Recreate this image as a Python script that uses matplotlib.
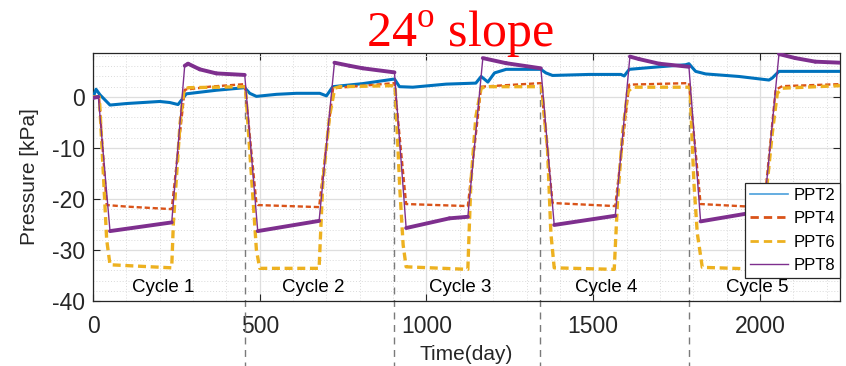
import numpy as np
import matplotlib
matplotlib.use("Agg")
import matplotlib.pyplot as plt
from matplotlib.collections import LineCollection
from matplotlib.lines import Line2D

plt.rcParams['font.family'] = ['Liberation Sans', 'DejaVu Sans']
plt.rcParams['mathtext.fontset'] = 'custom'
plt.rcParams['mathtext.rm'] = 'Liberation Serif'

# ---- pore-pressure records (time in days, pressure in kPa) ----
t_ppt2 = [0, 9, 21, 51, 101, 200, 230, 255, 280, 370, 455, 470, 490, 550, 610, 680,
          700, 719, 809, 904, 919, 959, 1059, 1148, 1164, 1184, 1204, 1239, 1343,
          1358, 1378, 1488, 1583, 1593, 1608, 1698, 1777, 1787, 1807, 1837, 1937,
          2027, 2037, 2057, 2240]
p_ppt2 = [-0.2, 1.5, 0.4, -1.6, -1.3, -0.9, -1.1, -1.5, 0.6, 1.3, 1.8, 0.7, 0.1, 0.5,
          0.7, 0.7, 0.2, 2.0, 2.6, 3.5, 2.0, 1.9, 2.5, 2.7, 4.0, 2.9, 4.7, 5.4, 5.4,
          4.7, 4.2, 4.4, 4.4, 4.1, 5.4, 5.9, 6.3, 6.5, 5.0, 4.5, 4.0, 3.3, 3.7, 5.0, 5.0]

t_ppt4 = [0, 18, 41, 101, 236, 275, 350, 455, 490, 495, 678, 720, 904, 939, 1124,
          1164, 1343, 1378, 1566, 1608, 1787, 1822, 1967, 2012, 2047, 2067, 2240]
p_ppt4 = [0.0, 0.0, -21.2, -21.5, -22.0, 1.4, 2.0, 2.5, -20.8, -21.2, -21.6, 1.7, 2.7,
          -21.0, -21.4, 2.0, 2.7, -20.8, -21.4, 2.4, 2.7, -21.0, -21.5, -21.6, 1.4,
          2.1, 2.5]

t_ppt6 = [0, 19, 31, 41, 51, 236, 241, 251, 261, 273, 286, 455,
          457, 480, 490, 500, 678, 689, 709, 725, 740, 904,
          906, 920, 930, 939, 1124, 1133, 1148, 1164, 1179, 1343,
          1345, 1363, 1373, 1383, 1563, 1573, 1588, 1603, 1618, 1787,
          1790, 1802, 1812, 1827, 2010, 2020, 2037, 2052, 2067, 2240]
p_ppt6 = [0.0, 0.0, -15.0, -28.0, -32.9, -33.5, -24.8, -15.0, -5.2, 1.4, 1.8, 2.0,
          2.0, -20.2, -30.0, -33.6, -33.6, -16.9, -3.9, 1.7, 2.0, 2.2,
          2.2, -18.0, -29.0, -33.3, -33.8, -16.9, -3.9, 1.7, 2.0, 2.0,
          2.0, -10.4, -26.7, -33.5, -33.8, -20.2, -7.1, 1.0, 1.9, 1.9,
          1.9, -16.9, -26.7, -33.4, -33.8, -18.0, -7.1, 0.7, 1.7, 2.2]

t_ppt8 = [0, 16, 51, 236, 275, 285, 320, 370, 455, 494, 678, 724, 769, 809, 904, 939,
          1069, 1124, 1169, 1239, 1343, 1383, 1566, 1610, 1638, 1698, 1787, 1822,
          1967, 2012, 2057, 2106, 2166, 2240]
p_ppt8 = [-0.2, 0.0, -26.3, -24.6, 6.1, 6.5, 5.4, 4.6, 4.3, -26.3, -24.3, 6.7, 6.1,
          5.6, 4.8, -25.7, -23.8, -23.5, 7.6, 6.6, 5.6, -25.1, -23.3, 7.9, 7.4, 6.5,
          5.9, -24.4, -22.8, -22.2, 8.4, 7.6, 6.9, 6.7]

cycle_bounds = [455, 904, 1341, 1787]
cycle_names = ["Cycle 1", "Cycle 2", "Cycle 3", "Cycle 4", "Cycle 5"]
cycle_label_x = [210, 659, 1102, 1539, 1991]
cycle_label_y = -37.4

series_names = ["PPT2", "PPT4", "PPT6", "PPT8"]
c_blue, c_red, c_yel, c_pur = "#0072BD", "#D95319", "#EDB120", "#7E2F8E"

fig = plt.figure(figsize=(8.46, 3.66), dpi=100)
ax = fig.add_axes([93 / 846, 1 - 301 / 366, 747 / 846, 248 / 366])

# grid
ax.set_axisbelow(True)
ax.set_xticks(np.arange(0, 2001, 500))
ax.set_yticks(np.arange(-40, 1, 10))
ax.set_xticks(np.arange(0, 2241, 100), minor=True)
ax.set_yticks(np.arange(-40, 9, 2), minor=True)
ax.grid(which='major', color='#dedede', lw=0.9, ls='-')
ax.grid(which='minor', color='#dadada', lw=0.7, ls=(0, (1, 2)))

# PPT2
ax.plot(t_ppt2, p_ppt2, color=c_blue, lw=2.2, solid_joinstyle='round', zorder=3)
# PPT4
ax.plot(t_ppt4, p_ppt4, color=c_red, lw=1.7, ls=(0, (2.2, 1.2)), zorder=4)
# PPT6
ax.plot(t_ppt6, p_ppt6, color=c_yel, lw=2.4, ls=(0, (2.4, 1.4)), zorder=5)

# PPT8: thick along the slowly varying stretches, thin along the fast ramps
tt = np.asarray(t_ppt8, float)
pp = np.asarray(p_ppt8, float)
segs = np.stack([np.column_stack([tt[:-1], pp[:-1]]),
                 np.column_stack([tt[1:], pp[1:]])], axis=1)
rate = np.abs(np.diff(pp) / np.diff(tt))
widths = np.where(rate > 0.2, 1.0, 2.8)
lc = LineCollection(segs, colors=c_pur, linewidths=widths, capstyle='round',
                    joinstyle='round', zorder=6)
ax.add_collection(lc)

# cycle boundaries
for xb in cycle_bounds:
    ax.plot([xb, xb], [2.0, -55], color='#7a7a7a', lw=1.0, ls=(0, (5, 4)),
            clip_on=False, zorder=2)

for name, xc in zip(cycle_names, cycle_label_x):
    ax.text(xc, cycle_label_y, name, ha='center', va='center', fontsize=13.5,
            color='black', zorder=7)

ax.set_xlim(0, 2240)
ax.set_ylim(-40, 8.6)

ax.tick_params(which='major', direction='in', length=5, width=0.8,
               top=True, right=True, colors='#262626', labelsize=16.5)
ax.tick_params(axis='x', pad=10)
ax.tick_params(axis='y', pad=5.5)
ax.tick_params(which='minor', length=0, top=True, right=True)
ax.yaxis.set_major_formatter(matplotlib.ticker.FuncFormatter(lambda v, p: f"{int(v)}"))
for s in ax.spines.values():
    s.set_color('#262626')
    s.set_linewidth(0.9)

ax.set_ylabel("Pressure [kPa]", fontsize=15, color='#262626')
ax.yaxis.set_label_coords(-0.072, 0.5)
ax.set_xlabel("Time(day)", fontsize=15, color='#262626', va='top')
ax.xaxis.set_label_coords(0.5, -0.177)

handles = [
    Line2D([], [], color='#4a9fdc', lw=1.2),
    Line2D([], [], color=c_red, lw=2.0, ls=(0, (3, 1.8))),
    Line2D([], [], color=c_yel, lw=2.0, ls=(0, (3, 1.8))),
    Line2D([], [], color=c_pur, lw=1.0),
]
leg = ax.legend(handles, series_names, loc='lower right', bbox_to_anchor=(1.0, 0.093),
                borderaxespad=0, fontsize=12, handlelength=2.3, handletextpad=0.3,
                borderpad=0.3, labelspacing=0.5, fancybox=False, framealpha=1,
                edgecolor='#262626')
leg.get_frame().set_linewidth(0.9)
leg.set_zorder(10)

fig.text(460 / 846, 1 - 46 / 366, r"24$^{\mathrm{o}}$ slope", color='red',
         fontsize=36, family='Liberation Serif', ha='center', va='baseline')

fig.savefig("out.png", dpi=100)
